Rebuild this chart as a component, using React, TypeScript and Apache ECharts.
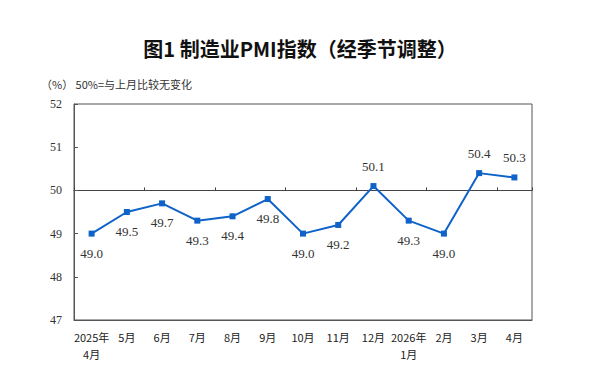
import React, { useEffect, useRef } from "react";
import * as echarts from "echarts";

const categories = [
  "2025年\n4月", "5月", "6月", "7月", "8月", "9月", "10月", "11月", "12月",
  "2026年\n1月", "2月", "3月", "4月",
];
const pmiValues = [49.0, 49.5, 49.7, 49.3, 49.4, 49.8, 49.0, 49.2, 50.1, 49.3, 49.0, 50.4, 50.3];
const labelAbove = [false, false, false, false, false, false, false, false, true, false, false, true, true];
const baseline = 50;
const yMin = 47;
const yMax = 52;

export default function App() {
  const ref = useRef<HTMLDivElement>(null);
  useEffect(() => {
    if (!ref.current) return;
    const chart = echarts.init(ref.current, null, { renderer: "svg" });
    const serif = "'Liberation Serif', 'Times New Roman', serif";
    const cjk = "'Noto Sans CJK SC', sans-serif";
    chart.setOption({
      animation: false,
      backgroundColor: "#ffffff",
      title: [
        {
          text: "图1 制造业PMI指数（经季节调整）",
          left: "center",
          top: 33,
          textStyle: { fontFamily: cjk, fontSize: 20, fontWeight: "bold", color: "#111" },
        },
        {
          text: "（%） 50%=与上月比较无变化",
          left: 36,
          top: 73,
          textStyle: { fontFamily: cjk, fontSize: 11, fontWeight: "normal", color: "#333" },
        },
      ],
      grid: {
        left: 74,
        right: 68,
        top: 104,
        bottom: 58,
        show: true,
        borderColor: "#555",
        borderWidth: 1,
        containLabel: false,
      },
      xAxis: [
        {
          type: "category",
          data: categories,
          boundaryGap: true,
          position: "bottom",
          axisLine: { onZero: false, lineStyle: { color: "#555", width: 1 } },
          axisTick: { show: false },
          axisLabel: {
            fontFamily: cjk,
            fontSize: 11,
            color: "#222",
            margin: 8,
            lineHeight: 17,
            interval: 0,
          },
        },
        {
          type: "category",
          data: categories,
          boundaryGap: true,
          position: "bottom",
          axisLine: { onZero: true, lineStyle: { color: "#444", width: 1 } },
          axisTick: { show: true, inside: true, length: 3, lineStyle: { color: "#444" } },
          axisLabel: { show: false },
        },
      ],
      yAxis: {
        type: "value",
        min: yMin - baseline,
        max: yMax - baseline,
        interval: 1,
        splitLine: { show: false },
        axisLine: { show: true, lineStyle: { color: "#555" } },
        axisTick: { show: true, inside: true, length: 4, lineStyle: { color: "#555" } },
        axisLabel: {
          fontFamily: serif,
          fontSize: 12,
          color: "#333",
          margin: 12,
          formatter: (v: number) => String(v + baseline),
        },
      },
      series: [
        {
          type: "line",
          xAxisIndex: 0,
          data: pmiValues.map((v, i) => ({
            value: +(v - baseline).toFixed(2),
            label: { position: labelAbove[i] ? "top" : "bottom" },
          })),
          symbol: "rect",
          symbolSize: 6,
          lineStyle: { color: "#0f62c8", width: 2 },
          itemStyle: { color: "#0f62c8" },
          label: {
            show: true,
            distance: 10,
            fontFamily: serif,
            fontSize: 13,
            color: "#333",
            formatter: (p: any) => pmiValues[p.dataIndex].toFixed(1),
          },
        },
      ],
    });
    return () => chart.dispose();
  }, []);
  return (
    <div
      ref={ref}
      style={{ position: "fixed", left: 0, top: 0, width: 600, height: 378, background: "#fff" }}
    />
  );
}
